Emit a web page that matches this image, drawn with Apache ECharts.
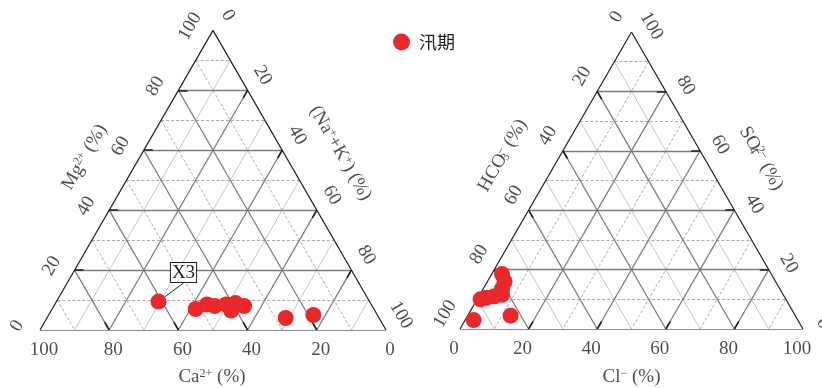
<!DOCTYPE html>
<html>
<head>
<meta charset="utf-8">
<script src="https://cdn.jsdelivr.net/npm/echarts@6/dist/echarts.min.js"></script>
<style>
  html, body { margin: 0; padding: 0; background: #fff; }
  #chart { width: 822px; height: 388px; }
</style>
</head>
<body>
<div id="chart"></div>
<script>
// Cation triangle: Ca2+ at the bottom-left corner, Mg2+ at the apex, Na+ + K+ at the bottom-right corner (%)
const caPct  = [61, 51.5, 47.5, 45.5, 42, 41.5, 39, 37, 27, 18.5];
const mgPct  = [9.5, 7, 8.5, 8, 8.5, 6.5, 9, 8, 4, 5];
const nakPct = [29.5, 41.5, 44, 46.5, 49.5, 52, 52, 55, 69, 76.5];
const cationTags = ['X3', '', '', '', '', '', '', '', '', ''];

// Anion triangle: HCO3- at the bottom-left corner, SO4 2- at the apex, Cl- at the bottom-right corner (%)
const hco3Pct = [78.5, 79, 81, 82, 84.5, 87, 89, 94.5, 83];
const so4Pct  = [18.5, 16, 13.5, 11.5, 11, 10.5, 10, 3, 4.5];
const clPct   = [3, 5, 5.5, 6.5, 4.5, 2.5, 1, 2.5, 12.5];

const tickValues = [0, 20, 40, 60, 80, 100];
const gridLevels = [10, 20, 30, 40, 50, 60, 70, 80, 90];
const seasonName = '汛期';

const SERIF = '"Liberation Serif", "DejaVu Serif", serif';
const INK = '#1e1e1e';
const RED = '#e8282b';
const H = Math.sqrt(3) / 2;

// (left-corner share, apex share, right-corner share) -> cartesian units of a unit-100 triangle
function tern(l, t, r) { return [r + t / 2, t * H]; }

// Both ends of the line where one component is constant
function lineEnds(axis, v) {
  if (axis === 'T') return { A: tern(100 - v, v, 0), B: tern(0, v, 100 - v) };
  if (axis === 'L') return { A: tern(v, 100 - v, 0), B: tern(v, 0, 100 - v) };
  return { A: tern(0, 100 - v, v), B: tern(100 - v, 0, v) };
}

const triangles = [
  {
    left: 40, base: 330, width: 346,
    axes: {
      T: { end: 'A', minor: 'dashed', off: [-23, -4], rot: 60,
           title: '{t|Mg}{sp|2+}{t| (%)}', titleAt: [50, 50, 0], titleOff: [-42, -23] },
      L: { end: 'B', minor: 'dashed', off: [4, 20], rot: 0,
           title: '{t|Ca}{sp|2+}{t| (%)}', titleAt: [50, 0, 50], titleOff: [-1, 47] },
      R: { end: 'A', minor: 'solid', off: [15, -15], rot: -60,
           title: '{t|(Na}{sp|+}{t|+K}{sp|+}{t|) (%)}', titleAt: [0, 50, 50], titleOff: [41, -27] }
    },
    points: caPct.map((c, i) => ({ l: c, t: mgPct[i], r: nakPct[i], tag: cationTags[i] }))
  },
  {
    left: 460, base: 329, width: 343,
    axes: {
      T: { end: 'B', minor: 'dashed', off: [20, -6], rot: -60,
           title: '{t|SO}{sbz|4}{sp|2−}{t| (%)}', titleAt: [0, 50, 50], titleOff: [44, -22] },
      L: { end: 'A', minor: 'solid', off: [-15, -15], rot: 60,
           title: '{t|HCO}{sbz|3}{sp|−}{t| (%)}', titleAt: [50, 50, 0], titleOff: [-43, -25] },
      R: { end: 'B', minor: 'dashed', off: [-6, 20], rot: 0,
           title: '{t|Cl}{sp|−}{t| (%)}', titleAt: [50, 0, 50], titleOff: [0, 48] }
    },
    points: hco3Pct.map((h, i) => ({ l: h, t: so4Pct[i], r: clPct[i], tag: '' }))
  }
];

const grids = [], xAxes = [], yAxes = [], series = [];

const richText = {
  t:   { fontFamily: SERIF, fontSize: 19, color: INK },
  sp:  { fontFamily: SERIF, fontSize: 12, color: INK, verticalAlign: 'top' },
  sbz: { fontFamily: SERIF, fontSize: 12, color: INK, verticalAlign: 'bottom', width: 0 }
};

triangles.forEach((tri, gi) => {
  const k = tri.width / 100;               // pixels per unit
  const h = tri.width * H;
  grids.push({ left: tri.left, top: tri.base - h, width: tri.width, height: h, show: false });
  xAxes.push({ gridIndex: gi, type: 'value', min: 0, max: 100, show: false });
  yAxes.push({ gridIndex: gi, type: 'value', min: 0, max: 100 * H, show: false });

  const minorDashed = [], minorSolid = [], major = [], ticks = [];
  ['T', 'L', 'R'].forEach(ax => {
    const cfg = tri.axes[ax];
    gridLevels.forEach(v => {
      const e = lineEnds(ax, v);
      const item = { coords: [e.A, e.B] };
      if (v % 20 === 0) {
        major.push(item);
        // short dark tick running inward from the labelled edge
        const p = cfg.end === 'A' ? e.A : e.B, q = cfg.end === 'A' ? e.B : e.A;
        const len = Math.hypot(q[0] - p[0], q[1] - p[1]);
        const s = 2.6 / len;
        ticks.push({ coords: [p, [p[0] + (q[0] - p[0]) * s, p[1] + (q[1] - p[1]) * s]] });
      } else if (cfg.minor === 'dashed') {
        minorDashed.push(item);
      } else {
        minorSolid.push(item);
      }
    });
  });

  const base = { type: 'lines', coordinateSystem: 'cartesian2d', xAxisIndex: gi, yAxisIndex: gi,
                 polyline: false, silent: true, animation: false };
  series.push(Object.assign({}, base, { z: 1, data: minorSolid,
    lineStyle: { color: '#c4c4c4', width: 1, opacity: 1 } }));
  series.push(Object.assign({}, base, { z: 1, data: minorDashed,
    lineStyle: { color: '#a8a8a8', width: 1, type: [3, 2], opacity: 1 } }));
  series.push(Object.assign({}, base, { z: 2, data: major,
    lineStyle: { color: '#7c7c7c', width: 1.3, opacity: 1 } }));
  series.push(Object.assign({}, base, { z: 3, data: ticks,
    lineStyle: { color: INK, width: 1.6, opacity: 1 } }));
  series.push(Object.assign({}, base, { z: 3,
    data: [
      { coords: [tern(100, 0, 0), tern(0, 0, 100)] },
      { coords: [tern(0, 0, 100), tern(0, 100, 0)] },
      { coords: [tern(0, 100, 0), tern(100, 0, 0)] }
    ],
    lineStyle: { color: INK, width: 1.2, opacity: 1 } }));

  // tick labels and axis titles, anchored to the triangle and nudged outward in pixels
  const labels = [];
  const nudge = (pt, off) => [pt[0] + off[0] / k, pt[1] - off[1] / k];
  ['T', 'L', 'R'].forEach(ax => {
    const cfg = tri.axes[ax];
    tickValues.forEach(v => {
      const e = lineEnds(ax, v);
      const p = cfg.end === 'A' ? e.A : e.B;
      labels.push({ name: '{t|' + v + '}', value: nudge(p, cfg.off), label: { rotate: cfg.rot } });
    });
    const at = tern(cfg.titleAt[0], cfg.titleAt[1], cfg.titleAt[2]);
    labels.push({ name: cfg.title, value: nudge(at, cfg.titleOff), label: { rotate: cfg.rot } });
  });
  series.push({
    type: 'scatter', xAxisIndex: gi, yAxisIndex: gi, silent: true, clip: false, z: 4,
    symbolSize: 0.1, itemStyle: { color: 'rgba(0,0,0,0)' },
    label: { show: true, position: 'inside', formatter: '{b}', rich: richText },
    data: labels
  });

  // sample points
  series.push({
    name: seasonName, type: 'scatter', xAxisIndex: gi, yAxisIndex: gi, z: 10, clip: false,
    symbol: 'circle', symbolSize: 16, itemStyle: { color: RED, opacity: 1 },
    label: { show: false },
    labelLine: { show: true, lineStyle: { color: INK, width: 1 } },
    labelLayout: p => (p.text ? { dx: 25, dy: -29 } : {}),
    data: tri.points.map(pt => ({
      value: tern(pt.l, pt.t, pt.r),
      name: pt.tag,
      label: pt.tag ? {
        show: true, position: 'inside', formatter: '{b}',
        fontFamily: SERIF, fontSize: 19, color: INK, lineHeight: 18,
        backgroundColor: '#fff', borderColor: INK, borderWidth: 1, padding: [1, 1, 0, 1]
      } : { show: false }
    }))
  });
});

const chart = echarts.init(document.getElementById('chart'), null, { renderer: 'canvas' });
chart.setOption({
  animation: false,
  backgroundColor: '#fff',
  grid: grids,
  xAxis: xAxes,
  yAxis: yAxes,
  legend: {
    data: [seasonName], left: 388, top: 28, icon: 'circle',
    itemWidth: 17, itemHeight: 17, selectedMode: false,
    textStyle: { fontFamily: '"Noto Sans CJK SC", sans-serif', fontSize: 18, color: INK, padding: [0, 0, 0, 4] }
  },
  series: series
});
</script>
</body>
</html>
